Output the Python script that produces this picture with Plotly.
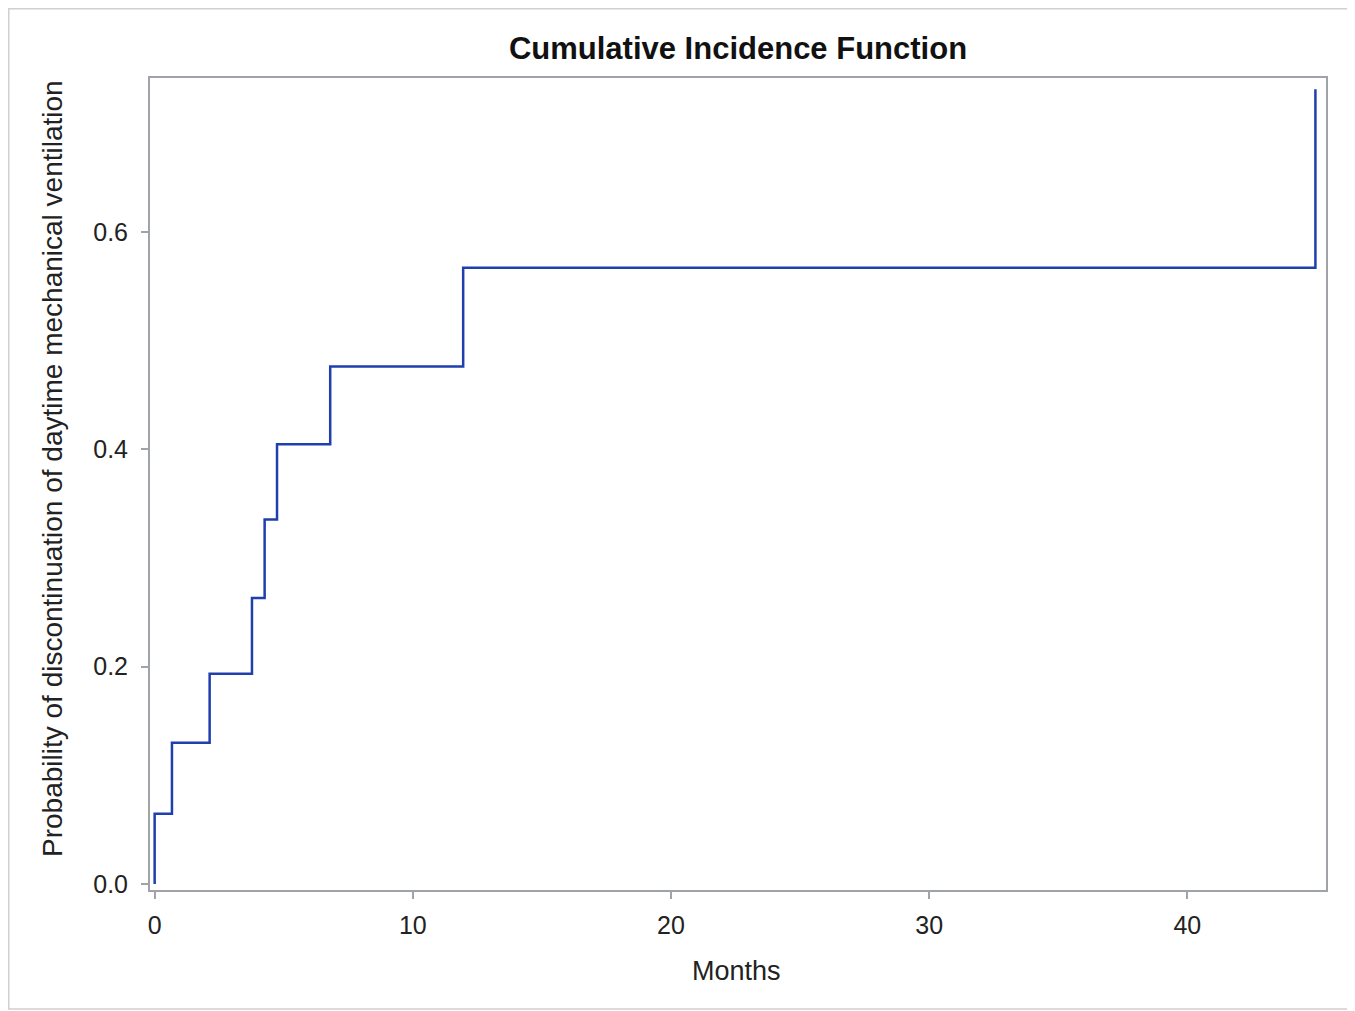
import plotly.graph_objects as go

# Event times (months) and cumulative incidence values
months = [0, 0, 0.67, 2.13, 3.77, 4.26, 4.74, 6.80, 11.95, 44.96]
cif = [0.0, 0.0647, 0.130, 0.1936, 0.2632, 0.3354, 0.4048, 0.4763, 0.5671, 0.7314]

x_ticks = [0, 10, 20, 30, 40]
y_ticks = [0.0, 0.2, 0.4, 0.6]
y_tick_labels = ["0.0", "0.2", "0.4", "0.6"]

title_text = "Cumulative Incidence Function"
x_title = "Months"
y_title = "Probability of discontinuation of daytime mechanical ventilation"

# page body has an 8px margin, so the figure is sized/offset accordingly
W, H = 1347, 1003
L, R, T, B = 142, 29, 70, 121
pw, ph = W - L - R, H - T - B

FONT = "Liberation Sans, Arial, sans-serif"

fig = go.Figure()
fig.add_trace(go.Scatter(
    x=months, y=cif, mode="lines", line_shape="hv",
    line=dict(color="#1f3fae", width=2.5), showlegend=False,
))

axis_common = dict(
    showgrid=False, zeroline=False, showline=True, mirror=True,
    linecolor="#a0a4a8", linewidth=2, ticks="outside", ticklen=7,
    tickcolor="#a0a4a8", tickwidth=1.5,
    tickfont=dict(family=FONT, size=25, color="#222222"),
)

fig.update_layout(
    width=W, height=H,
    margin=dict(l=L, r=R, t=T, b=B),
    paper_bgcolor="white", plot_bgcolor="white",
    title=dict(text="<b>" + title_text + "</b>", x=(730 - L) / pw, xref="paper",
               xanchor="center", y=1 - 40 / H, yanchor="middle",
               font=dict(family=FONT, size=31, color="#111111")),
    xaxis=dict(range=[-0.18, 45.37], tickvals=x_ticks, ticklabelstandoff=5, **axis_common),
    yaxis=dict(range=[-0.0055, 0.7418], tickvals=y_ticks, ticktext=y_tick_labels,
               ticklabelstandoff=8, **axis_common),
    annotations=[
        dict(text=x_title, xref="paper", yref="paper", x=(728 - L) / pw, y=(H - B - 963) / ph,
             xanchor="center", yanchor="middle", showarrow=False,
             font=dict(family=FONT, size=27, color="#222222")),
        dict(text=y_title, xref="paper", yref="paper", x=(44 - L) / pw, y=(H - B - 461) / ph,
             xanchor="center", yanchor="middle", showarrow=False, textangle=-90,
             font=dict(family=FONT, size=28, color="#222222")),
    ],
    shapes=[dict(type="rect", xref="paper", yref="paper",
                 x0=(0.75 - L) / pw, x1=(1340 - L) / pw,
                 y0=(H - B - 1001) / ph, y1=(H - B - 0.75) / ph,
                 line=dict(color="#d0d0d0", width=1.5), fillcolor="rgba(0,0,0,0)", layer="below")],
)

fig.write_html("out.html")
